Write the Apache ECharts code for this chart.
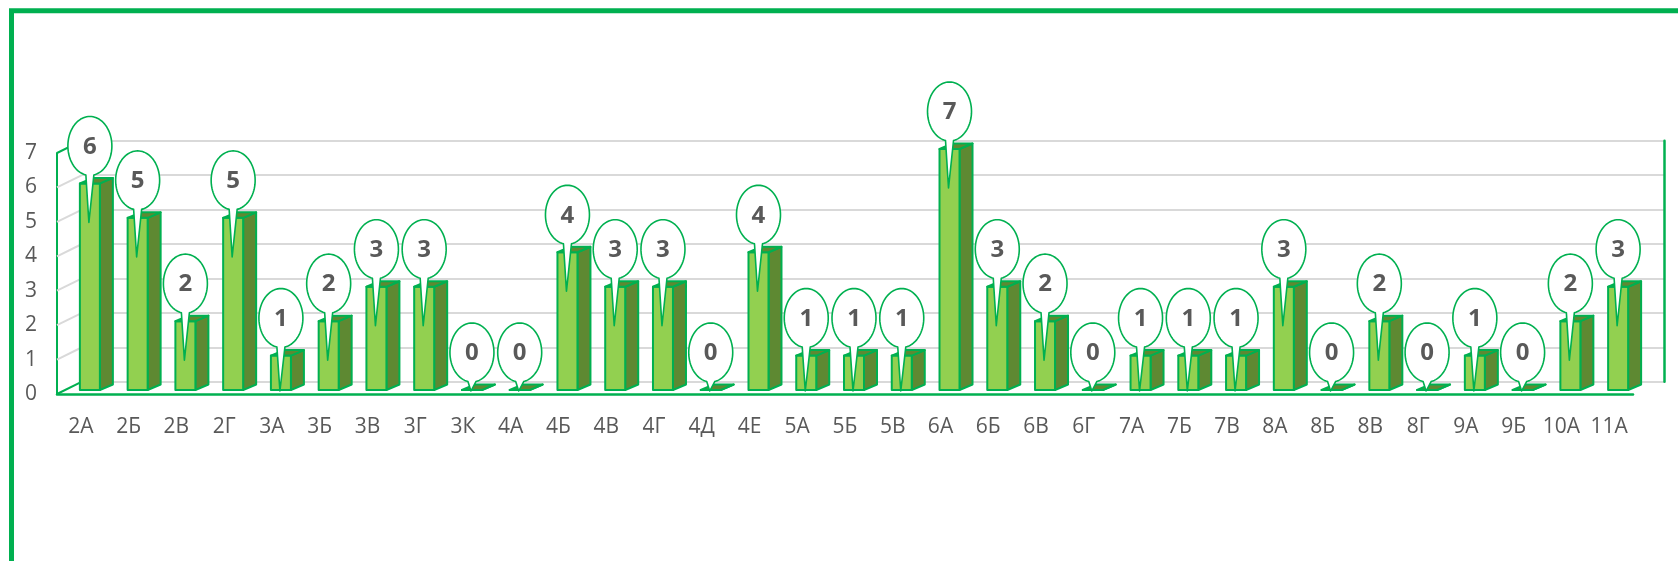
<!DOCTYPE html>
<html>
<head>
<meta charset="utf-8">
<script src="https://cdn.jsdelivr.net/npm/echarts@6/dist/echarts.min.js"></script>
<style>
html,body{margin:0;padding:0;background:#fff;}
#chart{width:1678px;height:561px;}
</style>
</head>
<body>
<div id="chart"></div>
<script>
const categories = ['2А','2Б','2В','2Г','3А','3Б','3В','3Г','3К','4А','4Б','4В','4Г','4Д','4Е','5А','5Б','5В','6А','6Б','6В','6Г','7А','7Б','7В','8А','8Б','8В','8Г','9А','9Б','10А','11А'];
const values = [6,5,2,5,1,2,3,3,0,0,4,3,3,0,4,1,1,1,7,3,2,0,1,1,1,3,0,2,0,1,0,2,3];
const yTicks = [0,1,2,3,4,5,6,7];

const GREEN = '#00b050';
const FRONT = '#92d050';
const SIDE = '#5e8932';
const TEXT = '#595959';
const FONT = '"Open Sans", "Noto Sans", sans-serif';

const chart = echarts.init(document.getElementById('chart'), null, {renderer: 'canvas'});

function barItem(params, api) {
  const i = api.value(0), v = api.value(1);
  const p = api.coord([i, v]);
  const p0 = api.coord([i, 0]);
  const c = p[0];
  const sh = -4, dx = 13, dy = 5.5;
  const x0 = c - 1, x1 = c + 19;
  const top = p[1] + sh, bot = p0[1] + sh;
  const st = {stroke: GREEN, lineWidth: 2, lineJoin: 'round'};
  return {
    type: 'group',
    children: [
      {type: 'polygon', shape: {points: [[x1, top], [x1 + dx, top - dy], [x1 + dx, bot - dy], [x1, bot]]},
       style: Object.assign({fill: SIDE}, st)},
      {type: 'polygon', shape: {points: [[x0, top], [x1, top], [x1, bot], [x0, bot]]},
       style: Object.assign({fill: FRONT}, st)},
      {type: 'polygon', shape: {points: [[x0, top], [x1, top], [x1 + dx, top - dy], [x0 + dx, top - dy]]},
       style: Object.assign({fill: SIDE}, st)}
    ]
  };
}

function bubbleItem(params, api) {
  const i = api.value(0), v = api.value(1);
  const p = api.coord([i, v]);
  const c = p[0];
  const top = p[1] - 4;
  const ex = c + 9, ey = top - 37.5;
  const rx = 22, ry = 29.5;
  const tipx = c + 8, tipy = Math.min(top + 39, 391);
  const a = 4;
  const t1 = Math.asin(a / rx);
  const pts = [];
  const startAng = Math.PI / 2 - t1;
  const endAng = -(3 * Math.PI / 2) + t1;
  const n = 80;
  for (let k = 0; k <= n; k++) {
    const ang = startAng + (endAng - startAng) * k / n;
    pts.push([ex + rx * Math.cos(ang), ey + ry * Math.sin(ang)]);
  }
  pts.push([tipx, tipy]);
  return {
    type: 'group',
    children: [
      {type: 'polygon', shape: {points: pts},
       style: {fill: '#ffffff', stroke: GREEN, lineWidth: 1.6, lineJoin: 'round'}},
      {type: 'text', x: ex, y: ey + 1,
       style: {text: String(v), fill: TEXT, font: 'bold 24px ' + FONT, align: 'center', verticalAlign: 'middle'}}
    ]
  };
}

function wallItem(params, api) {
  const t = api.value(1);
  const p = api.coord([0, t]);
  const x = params.coordSys.x;
  const y = p[1];
  const isEdge = (t === 7 || t === 0);
  return {
    type: 'line',
    shape: {x1: x, y1: y, x2: x + 25, y2: y - 12.3},
    style: {stroke: isEdge ? GREEN : '#d9d9d9', lineWidth: 2}
  };
}

const option = {
  animation: false,
  backgroundColor: '#ffffff',
  graphic: [{
    type: 'rect', z: 100,
    shape: {x: 11.5, y: 10.8, width: 1800, height: 800},
    style: {fill: 'none', stroke: GREEN, lineWidth: 5}
  }],
  grid: [
    {left: 57, top: 153, width: 1576, height: 241},
    {left: 82, top: 140.7, width: 1582, height: 241}
  ],
  xAxis: [
    {gridIndex: 0, type: 'category', data: categories,
     axisLine: {show: true, lineStyle: {color: GREEN, width: 2.5}},
     axisTick: {show: false},
     axisLabel: {interval: 0, color: TEXT, fontSize: 21, fontFamily: FONT, margin: 23}},
    {gridIndex: 1, type: 'category', data: categories, show: false}
  ],
  yAxis: [
    {gridIndex: 0, type: 'value', min: 0, max: 7, interval: 1,
     axisLine: {show: true, lineStyle: {color: GREEN, width: 2}},
     axisTick: {show: false}, splitLine: {show: false},
     axisLabel: {color: TEXT, fontSize: 21, fontFamily: FONT, margin: 20}},
    {gridIndex: 1, type: 'value', min: 0, max: 7, interval: 1, position: 'right',
     axisLine: {show: true, lineStyle: {color: GREEN, width: 2.5}},
     axisTick: {show: false}, axisLabel: {show: false},
     splitLine: {show: true, lineStyle: {color: '#d9d9d9', width: 2}}}
  ],
  series: [
    {type: 'custom', xAxisIndex: 0, yAxisIndex: 0, z: 2,
     data: yTicks.map(t => [0, t]), renderItem: wallItem, silent: true},
    {type: 'custom', xAxisIndex: 0, yAxisIndex: 0, z: 3,
     data: values.map((v, i) => [i, v]), renderItem: barItem, silent: true},
    {type: 'custom', xAxisIndex: 0, yAxisIndex: 0, z: 4,
     data: values.map((v, i) => [i, v]), renderItem: bubbleItem, silent: true}
  ]
};
chart.setOption(option);
</script>
</body>
</html>
